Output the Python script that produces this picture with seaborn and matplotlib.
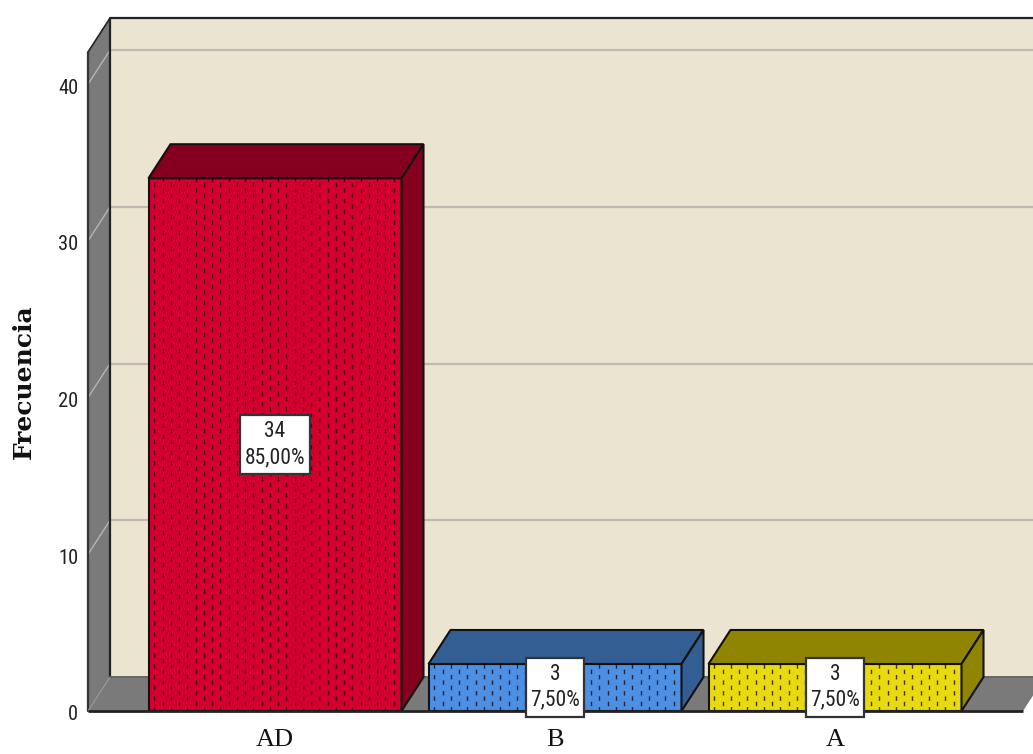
import matplotlib
matplotlib.use("Agg")
import matplotlib.pyplot as plt
import matplotlib.font_manager as fm
from matplotlib.patches import Rectangle
from matplotlib.transforms import ScaledTranslation
import seaborn as sns
import pandas as pd

# ---- data ----
categories = ["AD", "B", "A"]
counts = [34, 3, 3]
percents = ["85,00%", "7,50%", "7,50%"]
y_ticks = [0, 10, 20, 30, 40]
y_label = "Frecuencia"
front_colors = ["#D3002F", "#4C8FE3", "#E8DA10"]
side_colors = ["#84001E", "#335E93", "#8F8500"]

# ---- style ----
WALL = "#EAE4D0"
SIDE = "#7A7A7A"
GRID = "#BFB9B0"
names = {f.name for f in fm.fontManager.ttflist}
NARROW = next((n for n in ["Liberation Sans Narrow", "Roboto Condensed", "Archivo Narrow", "PT Sans Narrow"]
               if n in names), "Liberation Sans")
plt.rcParams["lines.scale_dashes"] = False

W, H = 1033, 754
sns.set_theme(style="white")
fig = plt.figure(figsize=(W / 100, H / 100), dpi=100)
ax = fig.add_axes([88 / W, (H - 711) / H, (W - 88) / W, 711 / H])

# scales: one category = 280 px, one count = 15.67 px
px_x, px_y = 280.0, 15.67
ax.set_xlim((88 - 275) / px_x, (W - 275) / px_x)
ax.set_ylim(0, 711 / px_y)
DX, DY = 22 / px_x, 34 / px_y     # depth of the 3-D box
x0 = (88 - 275) / px_x            # front left
x1 = (1023 - 275) / px_x          # front right
y1 = 42.05                        # top of the back wall
EDGE = dict(edgecolor="#111111", linewidth=1.5, joinstyle="miter")

# back wall, left wall, floor
ax.fill([x0 + DX, x1 + DX, x1 + DX, x0 + DX], [DY, DY, y1 + DY, y1 + DY],
        facecolor=WALL, edgecolor="none", zorder=1)
ax.fill([x0, x0 + DX, x1 + DX, x1], [0, DY, DY, 0], facecolor=SIDE, edgecolor="none", zorder=1)
ax.fill([x0, x0 + DX, x0 + DX, x0], [0, DY, y1 + DY, y1], facecolor=SIDE, edgecolor="none", zorder=1)
for t in y_ticks[1:]:
    ax.plot([x0 + DX, x1 + DX], [t + DY, t + DY], color=GRID, lw=1.6, zorder=1.5)
    ax.plot([x0, x0 + DX], [t, t + DY], color="#B5B5B5", lw=1.0, zorder=1.5)
ax.plot([x0 + DX, x0 + DX, x1 + DX], [DY, y1 + DY, y1 + DY], color="#222222", lw=1.6, zorder=2)
ax.plot([x0, x0 + DX, x0 + DX], [y1, y1 + DY, y1 + DY], color="#222222", lw=1.2, zorder=2)
ax.plot([x0, x0], [0, y1], color="#333333", lw=1.6, zorder=2, clip_on=False)
ax.plot([x0, x0 + DX], [0, DY], color="#999999", lw=0.8, zorder=2)
ax.plot([x0 + DX, x1 + DX], [DY, DY], color="#666666", lw=1.4, zorder=2)

# bars
df = pd.DataFrame({"cat": categories, "n": counts})
BAR_W = 253 / px_x
sns.barplot(data=df, x="cat", y="n", hue="cat", palette=dict(zip(categories, front_colors)),
            order=categories, hue_order=categories, dodge=False, legend=False, width=BAR_W,
            ax=ax, saturation=1, edgecolor="#111111", linewidth=1.5, zorder=3)
ax.set_xlim((88 - 275) / px_x, (W - 275) / px_x)
ax.set_ylim(0, 711 / px_y)

labels = []
for i, (n, side) in enumerate(zip(counts, side_colors)):
    l, r = i - BAR_W / 2, i + BAR_W / 2
    ax.fill([l, l + DX, r + DX, r], [n, n + DY, n + DY, n], facecolor=side, zorder=3, **EDGE)
    ax.fill([r, r + DX, r + DX, r], [0, DY, n + DY, n], facecolor=side, zorder=3, **EDGE)
    # dashed pattern on the front face: staggered columns of short dashes
    step = 8.25 / px_x
    k = 1
    xx = l + step * 0.7
    while xx < r - 2 / px_x:
        off = 0 if k % 2 else 5.4 * 0.72
        ax.vlines(xx, 0, n, colors="#22060F", linewidth=1.0, zorder=3.5, alpha=0.8,
                  linestyles=[(off, (4.4 * 0.72, 6.3 * 0.72))])
        xx += step
        k += 1
    labels.append((i, n, ax.text(i, n / 2, f"{n}\n{percents[i]}", ha="center", va="center", zorder=5,
                                 family=NARROW, fontsize=15.5, color="#222222", linespacing=1.3,
                                 clip_on=False)))

# white boxes around the bar labels, fitted to the text
fig.canvas.draw()
for i, n, txt in labels:
    bb = txt.get_window_extent()
    w = (bb.width + 9) / px_x
    h = 59 / px_y
    ax.add_patch(Rectangle((i - w / 2, n / 2 - h / 2), w, h, facecolor="white", edgecolor="#333333",
                           linewidth=1.6, zorder=4.8, clip_on=False))

ax.plot([x0, x1], [0, 0], color="#222222", lw=2.0, zorder=4, clip_on=False, solid_capstyle="butt")

# axes text
for s in ax.spines.values():
    s.set_visible(False)
ax.set_yticks(y_ticks)
ax.set_yticklabels([str(t) for t in y_ticks], family=NARROW, fontsize=14.8, color="#222222",
                   va="center_baseline")
ax.tick_params(axis="y", length=0, pad=7)
ax.set_xticks(range(len(categories)))
ax.set_xticklabels(categories, family="Liberation Serif", fontsize=19, color="#111111")
ax.tick_params(axis="x", length=0, pad=13)
for lab in ax.get_yticklabels():
    lab.set_transform(lab.get_transform() + ScaledTranslation(0, -2 / 100, fig.dpi_scale_trans))
ax.set_xlabel("")
ax.set_ylabel("")
fig.text(24 / W, 1 - 382 / H, y_label, rotation=90, ha="center", va="center",
         family="DejaVu Serif", weight="bold", fontsize=18, color="#111111")

fig.savefig("out.png", dpi=100, facecolor="white")
